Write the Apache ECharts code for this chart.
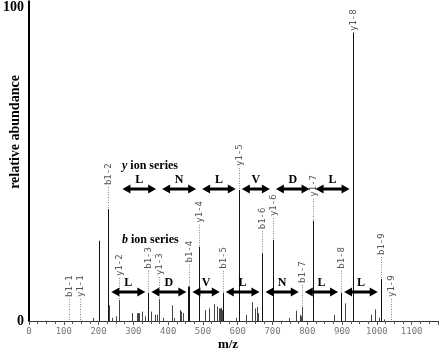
<!DOCTYPE html>
<html><head><meta charset="utf-8">
<script src="https://cdn.jsdelivr.net/npm/echarts@6/dist/echarts.min.js"></script>
<style>html,body{margin:0;padding:0;background:#fff}#c{width:440px;height:353px}</style>
</head><body><div id="c"></div>
<script>
// b ions
const bNames = ['b1-1','b1-2','b1-3','b1-4','b1-5','b1-6','b1-7','b1-8','b1-9'];
const bMz    = [115, 228, 343, 461, 557, 671, 784, 897, 1011];
const bInt   = [0, 35.7, 9, 11, 9, 21.6, 4.5, 9, 13.4];
// y ions
const yNames = ['y1-1','y1-2','y1-3','y1-4','y1-5','y1-6','y1-7','y1-8','y1-9'];
const yMz    = [146, 260, 374, 489, 603, 701, 815, 930, 1041];
const yInt   = [0, 6.7, 7, 23.7, 41.8, 25.8, 32, 92, 0];
// residue letters between consecutive ions
const ySeq = ['L','N','L','V','D','L'];        // y1-2 .. y1-8
const bSeq = ['L','D','V','L','N','L','L'];    // b1-2 .. b1-9
// other (unlabelled) peaks
const otherMz  = [183, 201, 231, 240, 250, 297, 310, 314, 317, 324, 333, 351, 362, 367, 384, 410, 418, 433, 438, 442, 458,
                  505, 518, 531, 540, 546, 550, 553, 556, 595, 623, 642, 651, 655, 658, 747, 766, 780, 782, 878, 909, 983, 994, 1005, 1020];
const otherInt = [1, 25.6, 5, 1, 1.5, 2.5, 2.5, 2.5, 2.5, 3, 1.5, 3, 2, 2, 1, 5, 1, 3.5, 3, 2.5, 11,
                  3.5, 4, 5.4, 4.6, 4, 4, 4.2, 3.5, 1, 2, 6, 4, 4.5, 2.5, 1, 3.3, 2, 1.5, 2, 5.6, 2, 3.7, 1, 0.5];

const peaks = [];
bMz.forEach((m,i)=>{ if (bInt[i]>0) peaks.push([m,bInt[i]]); });
yMz.forEach((m,i)=>{ if (yInt[i]>0) peaks.push([m,yInt[i]]); });
otherMz.forEach((m,i)=>peaks.push([m,otherInt[i]]));

const labels = [];
bMz.forEach((m,i)=>labels.push([m,bInt[i],bNames[i]]));
yMz.forEach((m,i)=>labels.push([m,yInt[i],yNames[i]]));

const Y_ARROW_LEVEL = 42.1, B_ARROW_LEVEL = 9.3;
const arrows = [];
ySeq.forEach((l,i)=>arrows.push([yMz[i+1], yMz[i+2], Y_ARROW_LEVEL, l]));
bSeq.forEach((l,i)=>arrows.push([bMz[i+1], bMz[i+2], B_ARROW_LEVEL, l]));

const chart = echarts.init(document.getElementById('c'), null, {renderer:'canvas'});
const serif = '"Liberation Serif","DejaVu Serif",serif';
chart.setOption({
  animation:false,
  backgroundColor:'#fff',
  grid:{left:28.3, right:2.2, top:1.2, bottom:32, containLabel:false},
  xAxis:{type:'value', min:0, max:1175, interval:100,
    axisLine:{lineStyle:{color:'#333', width:1}},
    axisTick:{show:true, length:4, lineStyle:{color:'#555'}},
    minorTick:{show:true, splitNumber:4, length:3, lineStyle:{color:'#555'}},
    splitLine:{show:false},
    axisLabel:{color:'#777', fontFamily:'"DejaVu Sans Mono",monospace', fontSize:9, margin:6, showMaxLabel:false,
      formatter:v=>String(v)}
  },
  yAxis:{type:'value', min:0, max:102, interval:100,
    axisLine:{show:true, lineStyle:{color:'#000', width:2}},
    axisTick:{show:false}, splitLine:{show:false},
    axisLabel:{color:'#000', fontFamily:serif, fontWeight:'bold', fontSize:14, margin:5, showMaxLabel:false,
      formatter:v=> (v===0||v===100)? String(v):''}
  },
  graphic:[
    {type:'text', x:15, y:132, rotation:Math.PI/2, style:{text:'relative abundance', font:'bold 14px '+serif, fill:'#000', align:'center', verticalAlign:'middle'}},
    {type:'text', x:228, y:345, style:{text:'m/z', font:'bold 13px '+serif, fill:'#000', align:'center', verticalAlign:'middle'}},
    {type:'text', x:122, y:166, style:{text:'{i|y} ion series', font:'bold 12px '+serif, fill:'#000', verticalAlign:'middle',
       rich:{i:{fontStyle:'italic', fontWeight:'bold', fontSize:12, fontFamily:serif}}}},
    {type:'text', x:122, y:240, style:{text:'{i|b} ion series', font:'bold 12px '+serif, fill:'#000', verticalAlign:'middle',
       rich:{i:{fontStyle:'italic', fontWeight:'bold', fontSize:12, fontFamily:serif}}}}
  ],
  series:[
    {type:'custom', coordinateSystem:'cartesian2d', data:peaks, encode:{x:0,y:1}, z:3,
     renderItem:(p,api)=>{
       const t = api.coord([api.value(0), api.value(1)]);
       const b = api.coord([api.value(0), 0]);
       const x = Math.round(t[0])+0.5;
       const big = api.value(1) > 8;
       return {type:'line', shape:{x1:x,y1:b[1],x2:x,y2:t[1]}, style:{stroke: big?'#111':'#444', lineWidth: 1}};
     }},
    {type:'custom', coordinateSystem:'cartesian2d', data:labels.map(d=>[d[0],d[1]]), encode:{x:0,y:1}, z:4,
     renderItem:(p,api)=>{
       const t = api.coord([api.value(0), api.value(1)]);
       const x = Math.round(t[0])+0.5;
       const textBottom = Math.max(t[1]-24, 31);
       const children = [];
       if (t[1] - 2 - textBottom > 2) {
         children.push({type:'line', shape:{x1:x,y1:t[1]-1,x2:x,y2:textBottom+2}, style:{stroke:'#888', lineWidth:1, lineDash:[1,1.5]}});
       }
       children.push({type:'text', x:x, y:textBottom, rotation:Math.PI/2,
          style:{text:labels[p.dataIndex][2], font:'9px "DejaVu Sans Mono",monospace', fill:'#555', align:'left', verticalAlign:'middle'}});
       return {type:'group', children};
     }},
    {type:'custom', coordinateSystem:'cartesian2d', data:arrows.map(d=>[d[0],d[1],d[2]]), encode:{x:[0,1],y:2}, z:5,
     renderItem:(p,api)=>{
       const a = api.coord([api.value(0), api.value(2)]);
       const b = api.coord([api.value(1), api.value(2)]);
       const y = Math.round(a[1]);
       const xs = a[0]+3, xe = b[0]-3;
       return {type:'group', children:[
         {type:'line', shape:{x1:xs+5,y1:y,x2:xe-5,y2:y}, style:{stroke:'#000', lineWidth:3}},
         {type:'polygon', shape:{points:[[xs,y],[xs+8,y-4.5],[xs+8,y+4.5]]}, style:{fill:'#000'}},
         {type:'polygon', shape:{points:[[xe,y],[xe-8,y-4.5],[xe-8,y+4.5]]}, style:{fill:'#000'}},
         {type:'text', x:(xs+xe)/2, y:y-3, style:{text:arrows[p.dataIndex][3], font:'bold 12px '+serif, fill:'#000', align:'center', verticalAlign:'bottom'}}
       ]};
     }}
  ]
});
</script></body></html>
